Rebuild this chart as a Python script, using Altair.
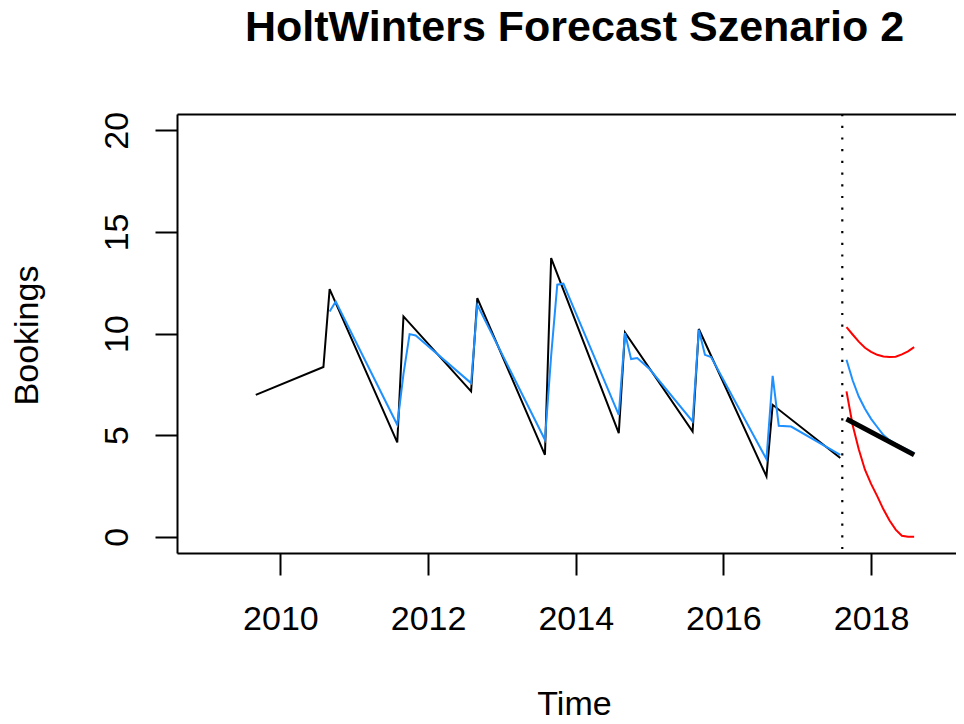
import altair as alt
import pandas as pd

# Observed bookings (black)
obs_time = [2009.667, 2010.583, 2010.667, 2011.583, 2011.667, 2012.583, 2012.667, 2013.583,
            2013.667, 2014.583, 2014.667, 2015.583, 2015.667, 2016.583, 2016.667, 2017.583]
obs_value = [6.98, 8.35, 12.18, 4.64, 10.84, 7.15, 11.74, 4.03,
             13.71, 5.10, 10.05, 5.18, 10.22, 2.97, 6.49, 3.87]

# HoltWinters fitted values (blue)
fit_time = [2010.667, 2010.75, 2011.583, 2011.667, 2011.75, 2011.833, 2012.583, 2012.667,
            2013.583, 2013.667, 2013.75, 2013.833, 2014.583, 2014.667, 2014.75, 2014.833,
            2015.0, 2015.583, 2015.667, 2015.75, 2015.833, 2016.583, 2016.667, 2016.75,
            2016.917, 2017.583]
fit_value = [11.08, 11.57, 5.51, 8.0, 9.97, 9.9, 7.56, 11.41,
             4.77, 8.9, 12.4, 12.45, 6.0, 10.02, 8.74, 8.79,
             8.25, 5.67, 10.18, 8.95, 8.84, 3.82, 7.92, 5.46,
             5.42, 4.03]

# Forecast (blue mean, red bounds)
fc_time = [2017.667, 2017.75, 2017.833, 2017.917, 2018.0, 2018.083,
           2018.167, 2018.25, 2018.333, 2018.417, 2018.5, 2018.583]
fc_mean = [8.71, 7.7, 6.9, 6.3, 5.8, 5.4, 5.0, 4.75, 4.58, 4.42, 4.27, 4.11]
fc_upper = [10.31, 9.95, 9.6, 9.3, 9.1, 8.95, 8.87, 8.84, 8.86, 8.97, 9.12, 9.33]
fc_lower = [7.15, 5.5, 4.3, 3.3, 2.6, 2.0, 1.35, 0.8, 0.35, 0.05, 0.0, 0.0]

# Thick black forecast line
trend_time = [2017.667, 2018.583]
trend_value = [5.79, 4.03]

forecast_start = [2017.61]

x_ticks = [2010, 2012, 2014, 2016, 2018]
y_ticks = [0, 5, 10, 15, 20]

FONT = "Liberation Sans"
W, H = 779, 439

xs = alt.Scale(domain=[2008.6, 2019.15], nice=False, zero=False)
ys = alt.Scale(domain=[-0.8, 20.8], nice=False, zero=False)

x_axis = alt.Axis(orient="bottom", values=x_ticks, format="d", grid=False,
                  tickSize=22, tickWidth=2, tickColor="black",
                  domainColor="black", domainWidth=2,
                  labelFont=FONT, labelFontSize=34, labelColor="black",
                  labelBaseline="alphabetic", labelPadding=54,
                  labelFlush=False, labelOverlap=False,
                  title="Time", titleFont=FONT, titleFontSize=34,
                  titleFontWeight="normal", titleColor="black",
                  titleX=397, titleY=161, titleAlign="center",
                  titleBaseline="alphabetic")
y_axis = alt.Axis(orient="left", values=y_ticks, grid=False,
                  tickSize=22, tickWidth=2, tickColor="black",
                  domainColor="black", domainWidth=2,
                  labelFont=FONT, labelFontSize=34, labelColor="black",
                  labelAngle=270, labelAlign="center",
                  labelBaseline="alphabetic", labelPadding=28,
                  labelFlush=False, labelOverlap=False,
                  title="Bookings", titleFont=FONT, titleFontSize=34,
                  titleFontWeight="normal", titleColor="black",
                  titleAngle=270, titleX=-140, titleY=221,
                  titleAlign="center", titleBaseline="alphabetic")
top_axis = alt.Axis(orient="top", labels=False, ticks=False, grid=False,
                    domainColor="black", domainWidth=2, title=None)

obs_df = pd.DataFrame({"t": obs_time, "v": obs_value})
fit_df = pd.DataFrame({"t": fit_time, "v": fit_value})
mean_df = pd.DataFrame({"t": fc_time, "v": fc_mean})
up_df = pd.DataFrame({"t": fc_time, "v": fc_upper})
lo_df = pd.DataFrame({"t": fc_time, "v": fc_lower})
trend_df = pd.DataFrame({"t": trend_time, "v": trend_value})
rule_df = pd.DataFrame({"t": forecast_start})


def line(df, color, width, xaxis=None):
    return alt.Chart(df).mark_line(color=color, strokeWidth=width).encode(
        x=alt.X("t:Q", scale=xs, axis=xaxis),
        y=alt.Y("v:Q", scale=ys, axis=y_axis),
    )


obs = line(obs_df, "black", 2, x_axis)
fit = line(fit_df, "#1E90FF", 2)
upper = line(up_df, "#FF0000", 2)
lower = line(lo_df, "#FF0000", 2)
mean = line(mean_df, "#1E90FF", 2)
trend = line(trend_df, "black", 5)

rule = alt.Chart(rule_df).mark_rule(color="black", strokeWidth=2.2,
                                    strokeDash=[2.2, 9.5]).encode(
    x=alt.X("t:Q", scale=xs, axis=top_axis),
)

chart = alt.layer(obs, fit, upper, lower, mean, trend, rule).properties(
    width=W, height=H,
    autosize=alt.AutoSizeParams(type="none"),
    padding={"left": 169, "top": 106, "right": 0, "bottom": 163},
    title=alt.TitleParams(
        text="HoltWinters Forecast Szenario 2",
        font=FONT, fontSize=43, fontWeight="bold", color="black",
        anchor="middle", frame="group", baseline="alphabetic",
        offset=27, dx=8,
    ),
).configure_view(stroke=None).configure(background="white")

chart.save("out.html", embed_options={"renderer": "svg", "actions": False})
